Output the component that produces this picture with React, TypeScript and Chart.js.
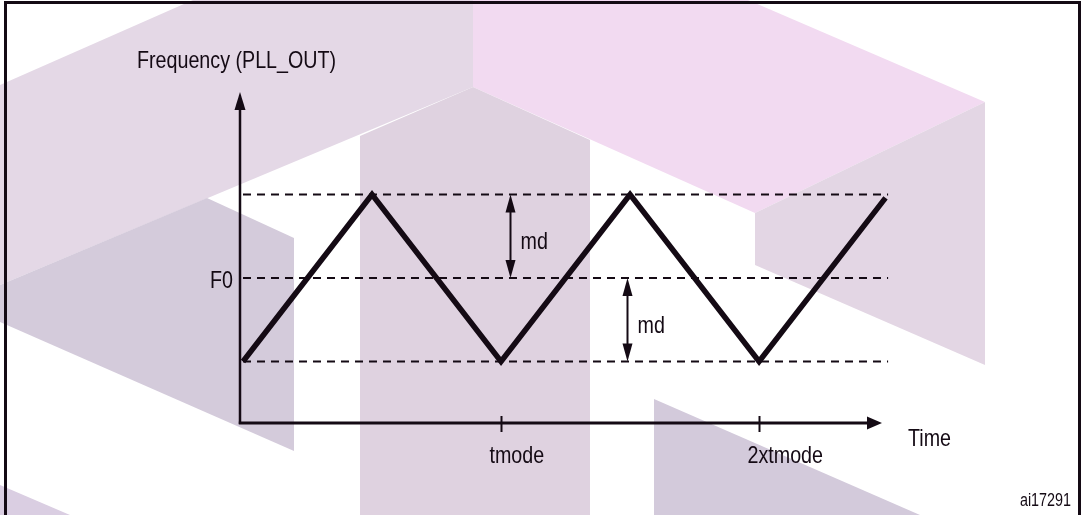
import React, { useEffect, useRef } from 'react';
import { Chart, registerables } from 'chart.js';

Chart.register(...registerables);

// ---- data (time in units of tmode, frequency in units of md around F0) ----
const waveTimes = [0, 0.5, 1, 1.5, 2, 2.49];
const waveFreq = [-1, 1, -1, 1, -1, 0.96];
const levelValues = [1, 0, -1]; // F0+md, F0, F0-md
const levelSpan = [0, 2.5];
const xTickValues = [1, 2];
const xTickLabels = ['tmode', '2xtmode'];
const yTickValues = [0];
const yTickLabels = ['F0'];
const mdArrowTimes = [1.035, 1.49];
const mdArrowFrom = [1, 0];
const mdArrowTo = [0, -1];
const mdLabel = 'md';
const yAxisTitle = 'Frequency (PLL_OUT)';
const xAxisTitle = 'Time';
const figureId = 'ai17291';

// ---- styles ----
const INK = '#140a14';
const FONT_FAMILY = '"Liberation Sans", Arial, Helvetica, sans-serif';
const SQUEEZE = 0.82;

// decorative background watermark (pixel polygons)
const watermark: { color: string; pts: number[][] }[] = [
  { color: '#e4d8e6', pts: [[0, 85], [193, 0], [473, 0], [473, 87], [0, 285]] },
  { color: '#f2daf1', pts: [[473, 0], [748, 0], [985, 102], [755, 213], [473, 87]] },
  { color: '#dfd2e0', pts: [[360, 136], [473, 87], [590, 140], [590, 515], [360, 515]] },
  { color: '#e3d6e4', pts: [[755, 213], [985, 102], [985, 365], [755, 265]] },
  { color: '#d4cbdb', pts: [[0, 285], [207, 198], [294, 238], [294, 451], [0, 322]] },
  { color: '#d3cadb', pts: [[654, 399], [920, 515], [654, 515]] },
  { color: '#dacee2', pts: [[0, 485], [70, 515], [0, 515]] },
];

function squeezedText(
  ctx: CanvasRenderingContext2D,
  text: string,
  x: number,
  y: number,
  size: number,
  align: CanvasTextAlign,
  baseline: CanvasTextBaseline
) {
  ctx.save();
  ctx.font = `${size}px ${FONT_FAMILY}`;
  ctx.fillStyle = INK;
  ctx.textAlign = align;
  ctx.textBaseline = baseline;
  ctx.translate(x, y);
  ctx.scale(SQUEEZE, 1);
  ctx.fillText(text, 0, 0);
  ctx.restore();
}

function arrowHead(ctx: CanvasRenderingContext2D, tx: number, ty: number, dir: 'up' | 'down' | 'right', len: number, half: number) {
  ctx.beginPath();
  ctx.moveTo(tx, ty);
  if (dir === 'up') {
    ctx.lineTo(tx - half, ty + len);
    ctx.lineTo(tx + half, ty + len);
  } else if (dir === 'down') {
    ctx.lineTo(tx - half, ty - len);
    ctx.lineTo(tx + half, ty - len);
  } else {
    ctx.lineTo(tx - len, ty - half);
    ctx.lineTo(tx - len, ty + half);
  }
  ctx.closePath();
  ctx.fill();
}

const backgroundPlugin = {
  id: 'bgWatermark',
  beforeDraw(chart: any) {
    const ctx: CanvasRenderingContext2D = chart.ctx;
    ctx.save();
    ctx.fillStyle = '#ffffff';
    ctx.fillRect(0, 0, chart.width, chart.height);
    for (const shape of watermark) {
      ctx.fillStyle = shape.color;
      ctx.beginPath();
      shape.pts.forEach((p, i) => (i === 0 ? ctx.moveTo(p[0], p[1]) : ctx.lineTo(p[0], p[1])));
      ctx.closePath();
      ctx.fill();
    }
    // frame
    ctx.strokeStyle = INK;
    ctx.lineWidth = 3;
    ctx.strokeRect(5.5, 2.5, 1074, 530);
    ctx.restore();
  },
};

const axesPlugin = {
  id: 'diagramAxes',
  afterDatasetsDraw(chart: any) {
    const ctx: CanvasRenderingContext2D = chart.ctx;
    const xs = chart.scales.x;
    const ys = chart.scales.y;
    const area = chart.chartArea;
    const ox = area.left;
    const oy = area.bottom;
    const yTip = area.top;
    const xTip = area.right - 19;

    ctx.save();
    ctx.strokeStyle = INK;
    ctx.fillStyle = INK;

    // y axis
    ctx.lineWidth = 2.5;
    ctx.beginPath();
    ctx.moveTo(ox, oy + 1);
    ctx.lineTo(ox, yTip + 10);
    ctx.stroke();
    arrowHead(ctx, ox, yTip, 'up', 18, 5.5);

    // x axis
    ctx.lineWidth = 3;
    ctx.beginPath();
    ctx.moveTo(ox - 1.2, oy);
    ctx.lineTo(xTip - 8, oy);
    ctx.stroke();
    arrowHead(ctx, xTip, oy, 'right', 15, 6.5);

    // x ticks + labels
    ctx.lineWidth = 2;
    xTickValues.forEach((v, i) => {
      const px = Math.round(xs.getPixelForValue(v)) + 0.5;
      ctx.beginPath();
      ctx.moveTo(px, oy - 7);
      ctx.lineTo(px, oy + 9);
      ctx.stroke();
      squeezedText(ctx, xTickLabels[i], px - 12, oy + 40, 24, 'left', 'alphabetic');
    });

    // y tick labels
    yTickValues.forEach((v, i) => {
      const py = ys.getPixelForValue(v);
      squeezedText(ctx, yTickLabels[i], ox - 7, py + 10, 24, 'right', 'alphabetic');
    });

    // md arrows
    mdArrowTimes.forEach((t, i) => {
      const px = Math.round(xs.getPixelForValue(t)) + 0.5;
      const y1 = ys.getPixelForValue(mdArrowFrom[i]);
      const y2 = ys.getPixelForValue(mdArrowTo[i]);
      ctx.lineWidth = 2;
      ctx.beginPath();
      ctx.moveTo(px, y1 + 10);
      ctx.lineTo(px, y2 - 10);
      ctx.stroke();
      arrowHead(ctx, px, y1, 'up', 18, 5);
      arrowHead(ctx, px, y2, 'down', 18, 5);
      squeezedText(ctx, mdLabel, px + 10, (y1 + y2) / 2 + 13, 24, 'left', 'alphabetic');
    });

    // titles
    squeezedText(ctx, yAxisTitle, 137, 68, 24, 'left', 'alphabetic');
    squeezedText(ctx, xAxisTitle, 908, 446, 24, 'left', 'alphabetic');
    squeezedText(ctx, figureId, 1071, 506, 17.5, 'right', 'alphabetic');
    ctx.restore();
  },
};

export default function App() {
  const canvasRef = useRef<HTMLCanvasElement | null>(null);

  useEffect(() => {
    if (!canvasRef.current) return;
    const levelSets = levelValues.map((v) => ({
      label: `level ${v}`,
      data: levelSpan.map((t) => ({ x: t, y: v })),
      borderColor: INK,
      borderWidth: 2,
      borderDash: [8, 6],
      pointRadius: 0,
      tension: 0,
      fill: false,
      order: 2,
    }));
    const chart = new Chart(canvasRef.current, {
      type: 'line',
      data: {
        datasets: [
          {
            label: 'PLL_OUT',
            data: waveTimes.map((t, i) => ({ x: t, y: waveFreq[i] })),
            borderColor: INK,
            borderWidth: 5.5,
            borderJoinStyle: 'miter',
            borderCapStyle: 'butt',
            pointRadius: 0,
            tension: 0,
            fill: false,
            order: 1,
          },
          ...levelSets,
        ],
      },
      options: {
        animation: false,
        responsive: false,
        events: [],
        layout: { padding: { left: 240, right: 182, top: 92, bottom: 92 } },
        plugins: { legend: { display: false }, tooltip: { enabled: false }, title: { display: false } },
        scales: {
          x: { type: 'linear', display: false, min: -0.0116, max: 2.55 },
          y: { type: 'linear', display: false, min: -1.737, max: 2.228 },
        },
      },
      plugins: [backgroundPlugin, axesPlugin],
    } as any);
    return () => chart.destroy();
  }, []);

  return (
    <div style={{ position: 'absolute', left: 0, top: 0, width: 1083, height: 515 }}>
      <canvas ref={canvasRef} width={1083} height={515} style={{ display: 'block' }} />
    </div>
  );
}
